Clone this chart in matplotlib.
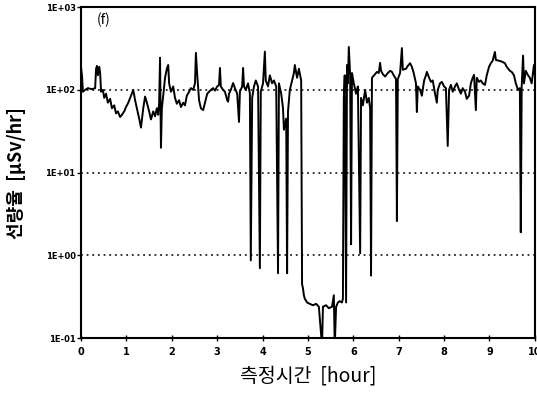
import matplotlib
matplotlib.use('Agg')
import matplotlib.pyplot as plt
import matplotlib.ticker as mticker

# measurement time [hour]
hours = [0.00, 0.02, 0.04, 0.09, 0.15, 0.24, 0.31, 0.33, 0.35, 0.37, 0.40, 0.42, 0.44, 0.48,
         0.51, 0.55, 0.59, 0.64, 0.68, 0.73, 0.77, 0.81, 0.86, 0.90, 0.95, 0.99, 1.04, 1.10,
         1.15, 1.19, 1.23, 1.28, 1.32, 1.37, 1.41, 1.45, 1.50, 1.54, 1.59, 1.63, 1.67, 1.70,
         1.72, 1.74, 1.76, 1.78, 1.81, 1.85, 1.89, 1.92, 1.94, 1.98, 2.03, 2.07, 2.11, 2.16,
         2.20, 2.25, 2.29, 2.33, 2.38, 2.42, 2.47, 2.51, 2.53, 2.56, 2.60, 2.64, 2.69, 2.73,
         2.78, 2.82, 2.86, 2.91, 2.95, 3.00, 3.04, 3.06, 3.08, 3.13, 3.17, 3.22, 3.24, 3.26,
         3.30, 3.35, 3.39, 3.44, 3.48, 3.50, 3.55, 3.57, 3.59, 3.63, 3.68, 3.72, 3.74, 3.77,
         3.81, 3.85, 3.90, 3.94, 3.96, 4.01, 4.05, 4.07, 4.12, 4.16, 4.21, 4.25, 4.30, 4.34,
         4.36, 4.41, 4.45, 4.47, 4.52, 4.54, 4.56, 4.60, 4.65, 4.69, 4.71, 4.76, 4.80, 4.85,
         4.87, 4.89, 4.91, 4.93, 4.98, 5.04, 5.11, 5.18, 5.24, 5.31, 5.33, 5.40, 5.46, 5.53,
         5.57, 5.59, 5.62, 5.66, 5.70, 5.75, 5.77, 5.79, 5.81, 5.84, 5.86, 5.88, 5.90, 5.93,
         5.95, 5.97, 6.01, 6.06, 6.10, 6.15, 6.17, 6.21, 6.26, 6.30, 6.34, 6.37, 6.39, 6.41,
         6.48, 6.52, 6.56, 6.59, 6.61, 6.65, 6.70, 6.76, 6.81, 6.85, 6.89, 6.94, 6.96, 6.98,
         7.03, 7.07, 7.09, 7.16, 7.20, 7.25, 7.29, 7.33, 7.38, 7.40, 7.42, 7.47, 7.51, 7.56,
         7.60, 7.62, 7.67, 7.71, 7.75, 7.80, 7.84, 7.86, 7.91, 7.95, 8.00, 8.04, 8.08, 8.11,
         8.15, 8.19, 8.24, 8.28, 8.33, 8.37, 8.41, 8.46, 8.50, 8.55, 8.59, 8.63, 8.66, 8.70,
         8.72, 8.77, 8.81, 8.85, 8.90, 8.94, 8.99, 9.03, 9.07, 9.12, 9.14, 9.21, 9.27, 9.34,
         9.38, 9.45, 9.49, 9.54, 9.58, 9.63, 9.67, 9.69, 9.71, 9.74, 9.76, 9.80, 9.85, 9.89,
         9.93, 9.98, 10.00]

# dose rate [uSv/hr]
dose = [184, 150, 95, 100, 105, 102, 105, 180, 195, 150, 190, 160, 95, 100,
        80, 90, 70, 78, 60, 65, 52, 55, 47, 50, 55, 62, 70, 85,
        100, 75, 60, 45, 35, 60, 83, 70, 55, 44, 55, 48, 60, 50,
        70, 245, 20, 60, 85, 140, 180, 200, 120, 95, 110, 80, 68, 75,
        62, 70, 65, 85, 95, 105, 100, 120, 280, 150, 75, 60, 57, 70,
        90, 95, 100, 105, 98, 110, 115, 184, 110, 100, 95, 75, 72, 90,
        100, 121, 105, 90, 41, 95, 110, 184, 110, 100, 120, 90, 0.87, 80,
        110, 130, 110, 0.70, 95, 120, 290, 130, 110, 150, 120, 130, 110, 0.61,
        120, 90, 60, 33, 45, 0.61, 55, 100, 130, 160, 200, 140, 180, 130,
        0.45, 0.40, 0.33, 0.30, 0.27, 0.26, 0.25, 0.26, 0.24, 0.08, 0.24, 0.25, 0.23, 0.24,
        0.33, 0.08, 0.24, 0.27, 0.28, 0.27, 0.30, 80, 150, 0.27, 200, 120, 330, 150,
        1.36, 160, 120, 90, 110, 1.06, 80, 65, 100, 70, 80, 60, 0.57, 140,
        155, 165, 160, 212, 170, 155, 145, 160, 170, 165, 150, 135, 2.6, 135,
        160, 320, 175, 180, 195, 210, 190, 160, 120, 54, 110, 100, 85, 130,
        150, 165, 140, 125, 130, 90, 70, 100, 120, 125, 110, 105, 21, 100,
        115, 95, 110, 120, 100, 90, 105, 95, 78, 85, 120, 140, 152, 57,
        140, 125, 130, 120, 115, 150, 190, 210, 225, 287, 230, 225, 220, 210,
        190, 170, 165, 150, 120, 100, 105, 1.9, 110, 260, 120, 170, 150, 140,
        120, 200, 150]

ytick_vals = [0.1, 1, 10, 100, 1000]
ytick_labels = ['1E-01', '1E+00', '1E+01', '1E+02', '1E+03']
grid_vals = [1, 10, 100]

kfont = ['Noto Sans CJK KR', 'DejaVu Sans']

fig = plt.figure(figsize=(5.37, 3.96), dpi=100)
ax = fig.add_axes([0.151, 0.146, 0.845, 0.836])

for g in grid_vals:
    ax.axhline(g, color='black', linestyle=(0, (1.2, 2.5)), linewidth=1.1, zorder=1)

ax.plot(hours, dose, color='black', linewidth=1.4, zorder=3)

ax.set_yscale('log')
ax.set_ylim(0.1, 1000)
ax.set_xlim(0, 10)

ax.set_yticks(ytick_vals)
ax.set_yticklabels(ytick_labels)
ax.yaxis.set_minor_locator(mticker.NullLocator())
ax.set_xticks(range(0, 11))
ax.set_xticklabels([str(i) for i in range(0, 11)])

ax.tick_params(axis='y', direction='out', length=3, width=1, labelsize=6, pad=1)
ax.tick_params(axis='x', direction='inout', length=5, width=1, labelsize=7, pad=4)
for lab in ax.get_xticklabels() + ax.get_yticklabels():
    lab.set_fontweight('bold')

for s in ax.spines.values():
    s.set_linewidth(1.5)

ax.text(0.35, 620, '(f)', fontsize=10, family=kfont)

ax.set_xlabel('측정시간  [hour]', family=kfont, fontsize=14, labelpad=6)
ax.set_ylabel('선량율  [μSv/hr]', family=kfont, fontsize=13, fontweight='bold')
ax.yaxis.set_label_coords(-0.121, 0.5)

fig.savefig('out.png', dpi=100)
